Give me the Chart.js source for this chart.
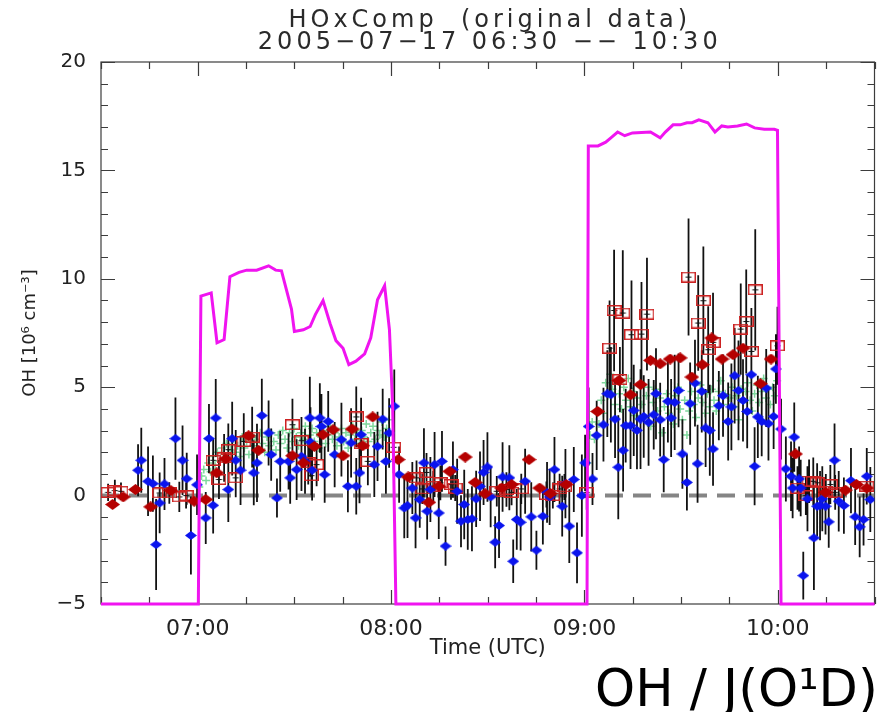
<!DOCTYPE html>
<html>
<head>
<meta charset="utf-8">
<script src="https://cdn.jsdelivr.net/npm/chart.js@4.4.1/dist/chart.umd.min.js"></script>
<style>
  html, body { margin: 0; padding: 0; background: #fff; }
</style>
</head>
<body>
<canvas id="ohChart" width="880" height="712"></canvas>
<script>
// time axis is minutes after midnight UTC
const xMin = 390, xMax = 630;
const yMin = -5, yMax = 20;

// J(O1D) trace, scaled onto the OH axis
const jTime = [390, 420.2, 421.0, 424.2, 426.0, 428.2, 430.0, 432.8, 435.2, 438.3, 442.0, 444.2, 446.0, 449.1, 450.0, 452.8, 454.9, 456.5, 458.9, 461.1, 462.9, 465.1, 466.9, 469.1, 471.8, 473.7, 475.8, 478.0, 479.5, 480.5, 481.5,
  540.8, 541.2, 544.2, 546.6, 548.2, 550.3, 552.5, 554.9, 560.5, 563.5, 565.1, 567.5, 569.7, 571.8, 573.4, 575.5, 578.3, 580.5, 582.6, 584.5, 587.5, 590.3, 592.8, 595.8, 598.9, 599.9, 601.0, 630];
const jOH = [-5, -5, 9.2, 9.35, 7.05, 7.2, 10.1, 10.3, 10.4, 10.4, 10.6, 10.4, 10.37, 8.6, 7.57, 7.65, 7.8, 8.35, 9.0, 7.93, 7.15, 6.8, 6.04, 6.2, 6.54, 7.28, 9.03, 9.68, 7.65, 4.1, -5,
  -5, 16.13, 16.13, 16.3, 16.5, 16.77, 16.6, 16.73, 16.77, 16.5, 16.77, 17.1, 17.1, 17.2, 17.2, 17.33, 17.2, 16.77, 17.05, 17.0, 17.05, 17.14, 16.96, 16.9, 16.9, 16.85, -5, -5];

// blue diamonds with error bars
const blueTime = [401.5, 402.5, 404.6, 406.1, 407.1, 408.2, 409.7, 413.1, 415.3, 416.6, 417.9, 419.8, 422.5, 423.5, 424.8, 425.6, 429.5, 430.7, 431.8, 433.3,
  437.4, 438.4, 439.9, 442.0, 442.8, 444.6, 445.6, 448.2, 448.7, 450.7, 452.2, 453.3, 454.8, 455.0, 455.5, 457.9, 458.4, 459.4, 460.5, 462.5,
  464.6, 466.6, 467.6, 469.2, 470.2, 470.7, 474.8, 475.8, 477.4, 478.4, 479.4, 481.0, 482.5, 484.1, 485.1, 486.6, 487.6, 488.9, 490.2, 491.2,
  492.2, 493.5, 494.8, 495.8, 496.9, 499.2, 500.5, 501.7, 502.7, 503.8, 505.1, 506.4, 507.6, 508.7, 509.9, 510.9, 512.3, 513.5, 514.6, 516.7,
  517.9, 519.0, 520.2, 521.6, 523.5, 525.1, 527.1, 528.4, 529.2, 530.7, 533.1, 534.1, 535.3, 536.7, 537.7, 539.2, 540.2, 541.3, 542.5, 543.8,
  545.9, 547.1, 548.2, 549.5, 550.5, 552.0, 552.8, 554.3, 555.3, 556.3, 557.4, 558.4, 559.9, 561.5, 562.2, 563.5, 564.6, 565.9, 566.9, 568.0,
  569.2, 570.4, 571.8, 572.8, 574.3, 575.1, 576.4, 577.6, 578.9, 579.9, 581.7, 583.0, 584.6, 585.6, 586.6, 587.8, 589.2, 590.5, 591.8, 592.8,
  593.8, 595.0, 596.4, 597.1, 598.7, 599.4, 601.0, 602.5, 604.1, 604.6, 605.1, 606.6, 607.1, 607.9, 609.2, 611.2, 612.2, 613.1, 613.8, 614.8,
  615.8, 617.6, 618.9, 620.5, 622.7, 624.0, 625.4, 626.6, 627.6, 628.7];
const blueOH = [1.17, 1.63, 0.66, 0.55, -2.26, -0.34, 0.54, 2.63, 1.63, 0.78, -1.84, 0.5, -1.03, 2.63, -0.45, 3.58, 0.28, 2.63, 1.63, 1.17,
  1.05, 1.51, 3.69, 2.89, 1.89, -0.11, 1.58, 1.58, 0.82, 1.2, 1.81, 1.58, 3.58, 2.47, 1.17, 3.58, 3.19, 0.97, 3.42, 1.89,
  2.58, 0.43, 2.43, 0.43, 1.05, 2.81, 1.43, 2.27, 3.53, 1.58, 2.89, 4.12, 0.97, -0.57, -0.46, 0.35, -1.03, -0.18, 1.51, -0.72,
  0.28, 1.43, -0.8, 1.58, -2.33, 1.2, 0.2, -1.18, -0.41, -1.1, -1.07, -0.15, 0.43, 1.07, 1.32, -0.06, -2.15, -1.38, 0.86, 0.82,
  -3.03, -1.1, -1.23, 0.66, -0.98, -2.52, -0.95, 0.15, -0.06, 1.2, -0.49, 0.55, -1.41, 0.74, -2.64, 0.0, 1.51, 3.19, 0.77, 2.78,
  3.27, 4.7, 4.65, 3.53, 1.31, 2.09, 3.23, 3.23, 3.93, 3.01, 3.53, 3.65, 3.38, 3.73, 4.7, 3.5, 1.66, 4.35, 3.58, 4.3,
  4.85, 1.92, 0.61, 4.24, 5.19, 1.47, 4.81, 3.12, 3.01, 2.15, 4.15, 4.61, 3.42, 4.09, 5.53, 4.85, 4.39, 3.88, 5.58, 1.35,
  3.63, 3.42, 4.96, 3.32, 3.65, 5.84, 3.07, 1.23, 0.89, 0.35, 2.7, 0.77, 0.35, -3.69, -0.15, -1.95, -0.49, -0.46, -0.15, -0.49,
  -1.21, 1.63, -0.26, -0.46, 0.69, -0.98, -1.44, -1.1, 0.89, -0.18];
const blueErr = [1.2, 1.5, 1.6, 1.3, 2.1, 1.4, 1.2, 1.9, 1.6, 1.2, 1.8, 1.4, 1.2, 1.6, 1.3, 1.8, 1.5, 1.7, 1.4, 1.6,
  1.5, 1.8, 1.7, 1.5, 1.2, 0.9, 1.4, 1.3, 1.2, 1.4, 1.6, 1.5, 1.9, 1.6, 1.4, 1.6, 1.5, 1.3, 1.4, 1.5,
  1.7, 1.2, 1.6, 1.3, 1.4, 1.7, 1.5, 1.6, 1.4, 1.5, 1.6, 1.7, 1.3, 1.4, 1.5, 1.2, 1.4, 1.3, 1.6, 1.3,
  1.5, 1.5, 1.2, 1.4, 0.9, 1.3, 1.5, 1.2, 1.6, 1.4, 1.5, 1.3, 1.6, 1.5, 1.6, 1.4, 1.2, 1.5, 1.6, 1.5,
  1.0, 1.4, 1.3, 1.5, 1.6, 0.9, 1.3, 1.4, 1.3, 1.5, 1.4, 1.6, 1.7, 1.5, 1.4, 1.9, 1.3, 1.8, 1.2, 1.6,
  1.7, 2.0, 2.2, 1.8, 2.4, 1.9, 1.7, 2.0, 2.1, 1.8, 2.3, 1.9, 2.0, 1.6, 2.1, 1.7, 1.5, 1.9, 1.8, 2.2,
  1.7, 1.6, 1.3, 1.9, 2.0, 1.8, 1.9, 1.8, 2.1, 1.7, 1.6, 1.9, 1.8, 2.0, 2.2, 2.3, 1.9, 1.7, 1.8, 1.8,
  1.9, 1.6, 1.8, 1.7, 1.5, 1.6, 1.4, 1.5, 1.6, 1.4, 1.6, 1.5, 1.3, 1.1, 1.5, 2.4, 1.4, 1.6, 1.5, 1.3,
  1.2, 1.7, 1.4, 1.3, 1.5, 1.3, 1.4, 1.2, 1.3, 1.5];

// dark red diamonds
const redTime = [393.6, 396.9, 400.7, 405.4, 411.7, 418.9, 422.5, 425.9, 428.7, 435.8, 438.9, 449.4, 452.8, 456.2, 458.9, 462.0, 465.1, 467.9, 471.2, 474.3,
  482.2, 485.3, 491.7, 494.8, 498.2, 503.0, 506.1, 509.2, 514.3, 517.4, 522.8, 526.1, 529.4, 534.3,
  544.1, 550.7, 554.3, 557.4, 560.5, 563.5, 566.6, 569.7, 573.3, 576.6, 579.5, 582.7, 586.1, 589.2, 594.6, 597.9,
  605.5, 614.8, 621.0, 624.4, 627.6];
const redOH = [-0.41, -0.06, 0.28, -0.52, 0.23, -0.26, -0.18, 1.05, 1.69, 2.76, 2.09, 1.84, 1.51, 2.27, 2.81, 3.04, 1.84, 3.07, 2.3, 3.63,
  1.66, 0.86, -0.31, 0.43, 1.12, 1.78, 0.61, 0.09, 0.35, 0.51, 1.66, 0.35, 0.09, 0.51,
  3.88, 5.31, 4.65, 5.12, 6.24, 6.08, 6.3, 6.35, 5.47, 6.04, 7.27, 6.3, 6.5, 6.8, 5.16, 6.3,
  1.92, 0.15, 0.25, 0.51, 0.35];

// open red squares with error bars
const sqTime = [392.2, 394.3, 396.2, 408.2, 411.2, 414.3, 416.4, 424.8, 426.6, 428.2, 429.5, 431.8, 434.3, 436.9, 449.4, 452.2, 454.3, 455.3, 456.9,
  469.2, 470.7, 472.8, 480.8, 487.9, 489.7, 491.0, 493.1, 495.3, 498.6, 499.9, 512.8, 515.8, 517.4, 520.4, 528.2, 530.2, 532.3, 533.8, 540.7,
  547.8, 549.2, 551.0, 551.9, 554.6, 557.7, 559.4, 572.3, 575.3, 576.9, 578.4, 579.9, 588.5, 590.2, 591.8, 593.0, 599.9,
  606.1, 608.7, 609.7, 611.0, 612.2, 614.9, 616.3, 617.8, 627.6];
const sqOH = [0.15, 0.23, 0.2, 0.12, 0.12, -0.06, 0.0, 1.63, 0.74, 1.74, 2.12, 0.82, 2.5, 2.7, 3.27, 2.53, 1.51, 0.92, 1.43,
  3.63, 2.4, 1.58, 2.23, 0.82, 0.31, 1.07, 0.43, 0.59, 0.51, 0.35, 0.2, 0.28, 0.15, 0.31, 0.05, 0.0, 0.31, 0.4, 0.15,
  6.8, 8.54, 5.35, 8.42, 7.42, 7.45, 8.37, 10.08, 7.96, 8.99, 6.73, 7.06, 7.68, 8.03, 6.65, 9.49, 6.91,
  0.35, 0.0, 0.66, 0.66, 0.59, 0.2, 0.51, 0.15, 0.43];
const sqErr = [0.4, 0.5, 0.4, 0.6, 0.5, 0.7, 0.6, 1.0, 0.9, 1.1, 1.2, 0.9, 1.3, 1.4, 1.2, 1.1, 1.0, 0.9, 1.0,
  1.4, 1.2, 1.1, 1.2, 0.8, 0.7, 0.9, 0.7, 0.8, 0.7, 0.6, 0.7, 0.8, 0.6, 0.7, 0.6, 0.6, 0.7, 0.6, 0.8,
  2.2, 2.8, 1.5, 2.9, 2.5, 2.4, 2.6, 2.7, 2.2, 2.5, 2.0, 2.3, 2.1, 2.4, 2.0, 2.8, 1.8,
  1.0, 0.9, 1.0, 1.1, 0.9, 0.8, 0.9, 0.8, 0.7];

// light green crosses
const greenTime = [420.5, 421.2, 421.9, 422.6, 423.3, 424.0, 424.7, 425.4, 426.1, 426.8, 427.5, 428.2, 428.9, 429.6, 430.3, 431.0, 431.7, 432.4, 433.1, 433.8,
  434.5, 435.2, 435.9, 436.6, 437.3, 438.0, 438.7, 439.4, 440.1, 440.8, 441.5, 442.2, 442.9, 443.6, 444.3, 445.0, 445.7, 446.4, 447.1, 447.8,
  448.5, 449.2, 449.9, 450.6, 451.3, 452.0, 452.7, 453.4, 454.1, 454.8, 455.5, 456.2, 456.9, 457.6, 458.3, 459.0, 459.7, 460.4, 461.1, 461.8,
  462.5, 463.2, 463.9, 464.6, 465.3, 466.0, 466.7, 467.4, 468.1, 468.8, 469.5, 470.2, 470.9, 471.6, 472.3, 473.0, 473.7, 474.4, 475.1, 475.8,
  476.5, 477.2, 477.9, 478.6, 479.3,
  541.0, 541.7, 542.4, 543.1, 543.8, 544.5, 545.2, 545.9, 546.6, 547.3, 548.0, 548.7, 549.4, 550.1, 550.8, 551.5, 552.2, 552.9, 553.6, 554.3,
  555.0, 555.7, 556.4, 557.1, 557.8, 558.5, 559.2, 559.9, 560.6, 561.3, 562.0, 562.7, 563.4, 564.1, 564.8, 565.5, 566.2, 566.9, 567.6, 568.3,
  569.0, 569.7, 570.4, 571.1, 571.8, 572.5, 573.2, 573.9, 574.6, 575.3, 576.0, 576.7, 577.4, 578.1, 578.8, 579.5, 580.2, 580.9, 581.6, 582.3,
  583.0, 583.7, 584.4, 585.1, 585.8, 586.5, 587.2, 587.9, 588.6, 589.3, 590.0, 590.7, 591.4, 592.1, 592.8, 593.5, 594.2, 594.9, 595.6, 596.3,
  597.0, 597.7, 598.4, 599.1, 599.8];
const greenOH = [0.4, 0.9, 1.2, 0.7, 1.5, 1.1, 1.8, 1.4, 2.0, 1.6, 2.2, 1.9, 2.4, 1.7, 2.1, 2.6, 2.0, 2.3, 1.8, 2.7,
  2.2, 2.5, 1.9, 2.8, 2.3, 2.6, 2.1, 2.9, 2.4, 2.0, 2.7, 2.3, 2.9, 2.5, 2.1, 2.8, 2.4, 3.0, 2.6, 2.2,
  2.9, 2.5, 3.1, 2.7, 2.3, 2.9, 2.6, 3.2, 2.4, 2.8, 3.1, 2.5, 2.9, 2.2, 2.7, 3.0, 2.4, 2.8, 3.2, 2.6,
  2.9, 2.3, 2.7, 3.1, 2.5, 2.9, 2.2, 2.8, 3.2, 2.6, 2.9, 2.4, 3.0, 2.7, 3.3, 2.5, 2.9, 3.2, 2.6, 3.0,
  2.8, 3.4, 2.7, 3.1, 3.5,
  1.5, 2.8, 3.4, 2.6, 3.9, 3.3, 4.4, 3.8, 5.2, 4.6, 5.6, 4.9, 4.2, 5.3, 4.7, 4.0, 5.0, 4.4, 5.4, 4.1,
  4.8, 3.7, 4.5, 5.1, 4.2, 3.6, 4.6, 5.0, 3.2, 4.3, 4.9, 3.9, 4.5, 2.9, 4.1, 4.7, 3.8, 4.4, 3.3, 4.6,
  5.0, 4.0, 3.5, 4.4, 2.8, 3.9, 4.8, 4.2, 3.6, 4.5, 5.1, 4.3, 3.8, 4.7, 4.1, 4.9, 4.4, 3.9, 4.8, 5.3,
  4.2, 4.7, 3.4, 4.5, 5.0, 4.1, 4.6, 3.5, 4.9, 4.3, 4.8, 5.2, 4.4, 3.9, 4.7, 5.1, 4.3, 4.8, 5.4, 4.5,
  4.9, 4.2, 5.0, 4.6, 5.3];

const hourTicks = [420, 480, 540, 600];

const pts = (xs, ys) => xs.map((t, i) => ({ x: t, y: ys[i] }));
const pad2 = n => String(n).padStart(2, '0');

// small sprites for the marker shapes
function diamond(w, h, fill) {
  const c = document.createElement('canvas');
  c.width = w; c.height = h;
  const g = c.getContext('2d');
  g.fillStyle = fill;
  g.beginPath();
  g.moveTo(w / 2, 0); g.lineTo(w, h / 2); g.lineTo(w / 2, h); g.lineTo(0, h / 2);
  g.closePath();
  g.fill();
  return c;
}
function openSquare(w, h) {
  const c = document.createElement('canvas');
  c.width = w; c.height = h;
  const g = c.getContext('2d');
  g.strokeStyle = '#cc2222';
  g.lineWidth = 1.5;
  g.strokeRect(0.75, 0.75, w - 1.5, h - 1.5);
  g.strokeStyle = '#111';
  g.lineWidth = 1;
  g.beginPath();
  g.moveTo(w / 2 - 3, h / 2); g.lineTo(w / 2 + 3, h / 2);
  g.stroke();
  return c;
}
const blueMark = diamond(12, 9, '#0a14ee');
const redMark = diamond(15, 11, '#b50000');
const sqMark = openSquare(15, 11);

// error bars, drawn just before the marker datasets
const errorBars = {
  id: 'errorBars',
  beforeDatasetDraw(chart, args) {
    if (chart.data.datasets[args.index].id !== 'squares') return;
    const { ctx, chartArea: a, scales: { x, y } } = chart;
    ctx.save();
    ctx.beginPath();
    ctx.rect(a.left, a.top, a.right - a.left, a.bottom - a.top);
    ctx.clip();
    ctx.strokeStyle = '#111';
    ctx.lineWidth = 1.8;
    ctx.beginPath();
    const bars = (ts, vs, es) => ts.forEach((t, i) => {
      const px = x.getPixelForValue(t);
      ctx.moveTo(px, y.getPixelForValue(vs[i] - es[i]));
      ctx.lineTo(px, y.getPixelForValue(vs[i] + es[i]));
    });
    bars(blueTime, blueOH, blueErr);
    bars(sqTime, sqOH, sqErr);
    ctx.stroke();
    ctx.restore();
  }
};

// box frame with inward ticks on all four sides
const frame = {
  id: 'frame',
  beforeDatasetsDraw(chart) {
    const { ctx, chartArea: a, scales: { x, y } } = chart;
    ctx.save();
    ctx.strokeStyle = '#3c3c3c';
    ctx.lineWidth = 1.2;
    ctx.strokeRect(a.left, a.top, a.right - a.left, a.bottom - a.top);
    ctx.beginPath();
    x.ticks.forEach(t => {
      const px = Math.round(x.getPixelForValue(t.value)) + 0.5;
      const len = t.value % 60 === 0 ? 14 : 7;
      ctx.moveTo(px, a.bottom); ctx.lineTo(px, a.bottom - len);
      ctx.moveTo(px, a.top); ctx.lineTo(px, a.top + len);
    });
    y.ticks.forEach(t => {
      const py = Math.round(y.getPixelForValue(t.value)) + 0.5;
      const len = t.value % 5 === 0 ? 14 : 7;
      ctx.moveTo(a.left, py); ctx.lineTo(a.left + len, py);
      ctx.moveTo(a.right, py); ctx.lineTo(a.right - len, py);
    });
    ctx.stroke();
    ctx.restore();
  },
  afterDraw(chart) {
    const { ctx, chartArea: a } = chart;
    const cx = (a.left + a.right) / 2;
    ctx.save();
    ctx.fillStyle = '#2a2a2a';
    ctx.font = '24px "DejaVu Sans"';
    ctx.textAlign = 'center';
    ctx.textBaseline = 'alphabetic';
    ctx.letterSpacing = '4px';
    ctx.fillText('HOxComp  (original data)', cx + 2, 27);
    ctx.fillText('2005\u221207\u221217 06:30 \u2212\u2212 10:30', cx + 2, 49);
    ctx.letterSpacing = '0px';
    ctx.fillStyle = '#000';
    ctx.textAlign = 'left';
    ctx.font = '51px "DejaVu Sans"';
    ctx.fillText('OH / J(O\u00b9D)', 595, 706);
    ctx.restore();
  }
};

Chart.defaults.font.family = '"DejaVu Sans", sans-serif';
Chart.defaults.color = '#222';

new Chart(document.getElementById('ohChart'), {
  type: 'scatter',
  data: {
    datasets: [
      {
        type: 'line',
        data: pts(jTime, jOH),
        borderColor: '#f014f0',
        borderWidth: 3,
        pointRadius: 0,
        tension: 0,
        clip: { left: 0, top: 0, right: 2, bottom: 3 },
        order: 1
      },
      {
        data: pts(redTime, redOH),
        pointStyle: redMark,
        order: 2
      },
      {
        data: pts(blueTime, blueOH),
        pointStyle: blueMark,
        order: 3
      },
      {
        id: 'squares',
        data: pts(sqTime, sqOH),
        pointStyle: sqMark,
        order: 4
      },
      {
        data: pts(greenTime, greenOH),
        pointStyle: 'cross',
        pointRadius: 4,
        borderColor: '#7ed89c',
        borderWidth: 1.5,
        order: 6
      },
      {
        type: 'line',
        data: pts([xMin, xMax], [0, 0]),
        borderColor: '#858585',
        borderWidth: 4,
        borderDash: [18, 10],
        pointRadius: 0,
        order: 7
      }
    ]
  },
  options: {
    responsive: false,
    animation: false,
    events: [],
    layout: { padding: { top: 62, right: 1, bottom: 48, left: 0 } },
    plugins: {
      legend: { display: false },
      tooltip: { enabled: false }
    },
    scales: {
      x: {
        type: 'linear',
        min: xMin,
        max: xMax,
        grid: { display: false },
        border: { display: false },
        afterFit: s => { s.height = 60; },
        ticks: {
          stepSize: 15,
          autoSkip: false,
          maxRotation: 0,
          padding: 4,
          font: { size: 22 },
          color: '#222',
          callback: v => hourTicks.includes(v) ? pad2(Math.floor(v / 60)) + ':' + pad2(v % 60) : ''
        },
        title: {
          display: true,
          text: 'Time (UTC)',
          font: { size: 21 },
          color: '#222',
          padding: { top: 0, bottom: 3 }
        }
      },
      y: {
        min: yMin,
        max: yMax,
        grid: { display: false },
        border: { display: false },
        afterFit: s => { s.width = 101; },
        ticks: {
          stepSize: 1,
          autoSkip: false,
          padding: 7,
          font: { size: 20 },
          color: '#222',
          callback: v => v % 5 === 0 ? (v < 0 ? '\u2212' + Math.abs(v) : String(v)) : ''
        },
        title: {
          display: true,
          text: 'OH [10\u2076 cm\u207b\u00b3]',
          font: { size: 18 },
          color: '#222',
          padding: { top: 20, bottom: 0 }
        }
      }
    }
  },
  plugins: [frame, errorBars]
});
</script>
</body>
</html>
